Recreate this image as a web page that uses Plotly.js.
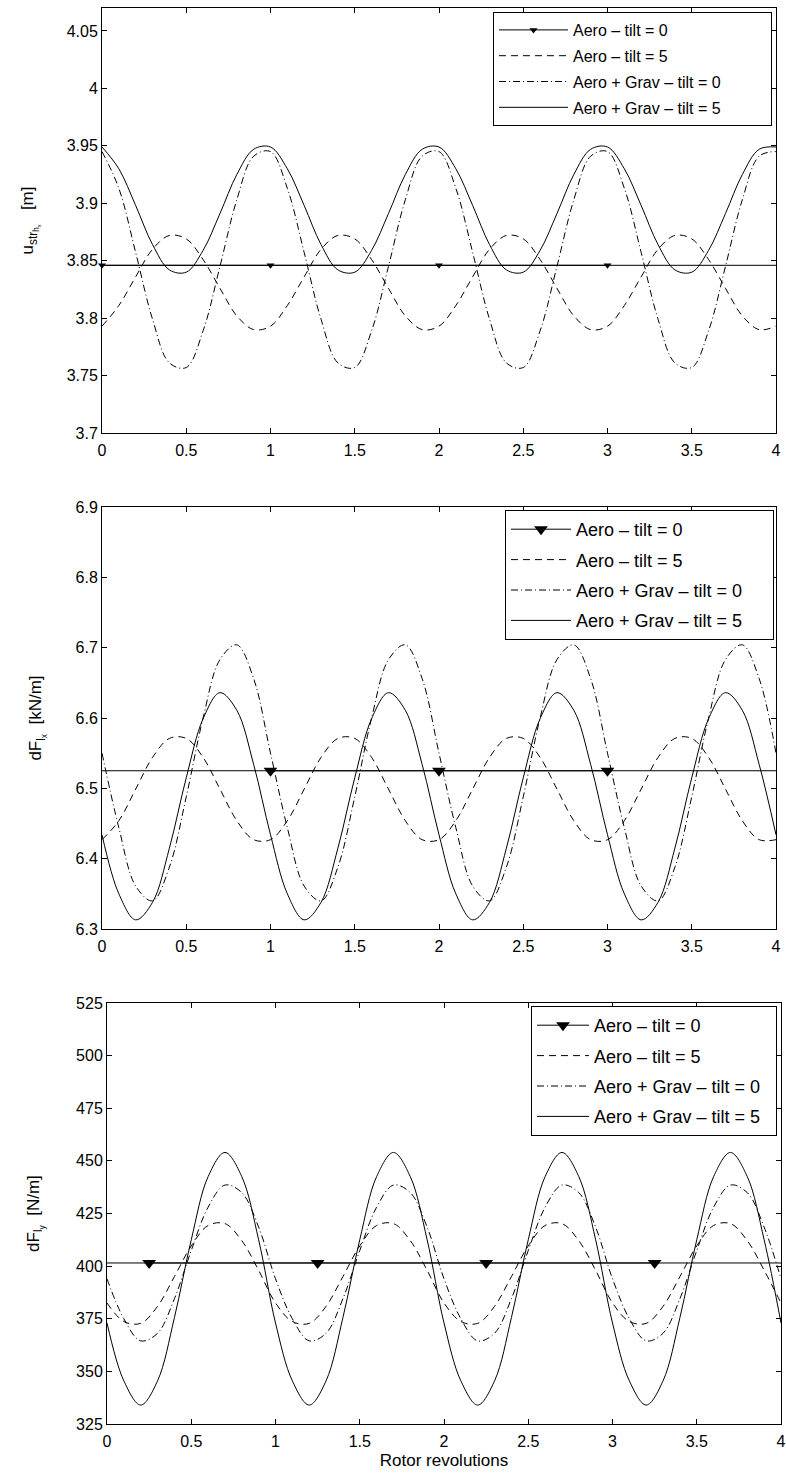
<!DOCTYPE html>
<html>
<head>
<meta charset="utf-8">
<script src="https://cdn.plot.ly/plotly-3.0.1.min.js"></script>
<style>
html,body{margin:0;padding:0;background:#fff;}
#chart{width:786px;height:1474px;}
</style>
</head>
<body>
<div id="chart"></div>
<script>
// ---------- data ----------
const revs = [0,0.1,0.2,0.3,0.4,0.5,0.6,0.7,0.8,0.9,
  1,1.1,1.2,1.3,1.4,1.5,1.6,1.7,1.8,1.9,
  2,2.1,2.2,2.3,2.4,2.5,2.6,2.7,2.8,2.9,
  3,3.1,3.2,3.3,3.4,3.5,3.6,3.7,3.8,3.9,4];

const seriesNames = ['Aero \u2013 tilt = 0','Aero \u2013 tilt = 5','Aero + Grav \u2013 tilt = 0','Aero + Grav \u2013 tilt = 5'];

// Panel 1: u_str_hx [m]
const p1_aero0 = 3.846;
const p1_markX = [0,1,2,3];
const p1_aero5 = [3.793,3.811,3.836,3.860,3.872,3.869,3.851,3.826,3.802,3.790,
  3.793,3.811,3.836,3.860,3.872,3.869,3.851,3.826,3.802,3.790,
  3.793,3.811,3.836,3.860,3.872,3.869,3.851,3.826,3.802,3.790,
  3.793,3.811,3.836,3.860,3.872,3.869,3.851,3.826,3.802,3.790,3.793];
const p1_grav0 = [3.945,3.913,3.857,3.799,3.761,3.757,3.789,3.845,3.903,3.941,
  3.945,3.913,3.857,3.799,3.761,3.757,3.789,3.845,3.903,3.941,
  3.945,3.913,3.857,3.799,3.761,3.757,3.789,3.845,3.903,3.941,
  3.945,3.913,3.857,3.799,3.761,3.757,3.789,3.845,3.903,3.941,3.945];
const p1_grav5 = [3.949,3.930,3.898,3.864,3.842,3.840,3.859,3.891,3.925,3.947,
  3.949,3.930,3.898,3.864,3.842,3.840,3.859,3.891,3.925,3.947,
  3.949,3.930,3.898,3.864,3.842,3.840,3.859,3.891,3.925,3.947,
  3.949,3.930,3.898,3.864,3.842,3.840,3.859,3.891,3.925,3.947,3.949];

// Panel 2: dF_lx [kN/m]
const p2_aero0 = 6.525;
const p2_markX = [1,2,3];
const p2_aero5 = [6.427,6.454,6.499,6.544,6.571,6.571,6.544,6.499,6.454,6.427,
  6.427,6.454,6.499,6.544,6.571,6.571,6.544,6.499,6.454,6.427,
  6.427,6.454,6.499,6.544,6.571,6.571,6.544,6.499,6.454,6.427,
  6.427,6.454,6.499,6.544,6.571,6.571,6.544,6.499,6.454,6.427,6.427];
const p2_grav0 = [6.550,6.444,6.361,6.340,6.388,6.488,6.600,6.683,6.704,6.656,
  6.550,6.444,6.361,6.340,6.388,6.488,6.600,6.683,6.704,6.656,
  6.550,6.444,6.361,6.340,6.388,6.488,6.600,6.683,6.704,6.656,
  6.550,6.444,6.361,6.340,6.388,6.488,6.600,6.683,6.704,6.656,6.550];
const p2_grav5 = [6.434,6.350,6.313,6.338,6.415,6.515,6.599,6.636,6.611,6.534,
  6.434,6.350,6.313,6.338,6.415,6.515,6.599,6.636,6.611,6.534,
  6.434,6.350,6.313,6.338,6.415,6.515,6.599,6.636,6.611,6.534,
  6.434,6.350,6.313,6.338,6.415,6.515,6.599,6.636,6.611,6.534,6.434];

// Panel 3: dF_ly [N/m]
const p3_aero0 = 401.5;
const p3_markX = [0.25,1.25,2.25,3.25];
const p3_aero5 = [382.5,373.7,372.8,380.9,395.0,409.6,419.3,420.2,412.1,398.0,
  382.5,373.7,372.8,380.9,395.0,409.6,419.3,420.2,412.1,398.0,
  382.5,373.7,372.8,380.9,395.0,409.6,419.3,420.2,412.1,398.0,
  382.5,373.7,372.8,380.9,395.0,409.6,419.3,420.2,412.1,398.0,382.5];
const p3_grav0 = [394.0,375.0,364.5,368.1,384.5,407.4,428.0,438.5,434.9,418.5,
  394.0,375.0,364.5,368.1,384.5,407.4,428.0,438.5,434.9,418.5,
  394.0,375.0,364.5,368.1,384.5,407.4,428.0,438.5,434.9,418.5,
  394.0,375.0,364.5,368.1,384.5,407.4,428.0,438.5,434.9,418.5,394.0];
const p3_grav5 = [373.0,345.5,334.0,345.5,375.5,412.5,442.5,454.0,442.5,412.5,
  373.0,345.5,334.0,345.5,375.5,412.5,442.5,454.0,442.5,412.5,
  373.0,345.5,334.0,345.5,375.5,412.5,442.5,454.0,442.5,412.5,
  373.0,345.5,334.0,345.5,375.5,412.5,442.5,454.0,442.5,412.5,373.0];

// ticks
const xTickVals = [0,0.5,1,1.5,2,2.5,3,3.5,4];
const xTickText = ['0','0.5','1','1.5','2','2.5','3','3.5','4'];
const y1TickVals = [3.7,3.75,3.8,3.85,3.9,3.95,4,4.05];
const y1TickText = ['3.7','3.75','3.8','3.85','3.9','3.95','4','4.05'];
const y2TickVals = [6.3,6.4,6.5,6.6,6.7,6.8,6.9];
const y2TickText = ['6.3','6.4','6.5','6.6','6.7','6.8','6.9'];
const y3TickVals = [325,350,375,400,425,450,475,500,525];
const y3TickText = ['325','350','375','400','425','450','475','500','525'];

// ---------- build ----------
const W = 786, H = 1474;
const FONT = 'Liberation Sans, Arial, Helvetica, sans-serif';

function pad(n) { return '\u00a0'.repeat(n); }

function panel(idx, c, markX, aero5, grav0, grav5, msize, legendId, padN) {
  const xa = idx === 1 ? 'x' : 'x' + idx;
  const ya = idx === 1 ? 'y' : 'y' + idx;
  const cy = revs.map(() => c);
  const base = {xaxis: xa, yaxis: ya, legend: legendId, hoverinfo: 'skip'};
  const nm = seriesNames.map(s => s + pad(padN));
  return [
    Object.assign({}, base, {x: revs, y: cy, mode: 'lines', showlegend: false,
      line: {color: '#000', width: 1}}),
    Object.assign({}, base, {x: markX, y: markX.map(() => c), mode: 'lines+markers',
      name: nm[0], cliponaxis: false, legendgroup: 'a' + idx,
      line: {color: '#000', width: 1},
      marker: {symbol: 'triangle-down', size: msize, color: '#000'}}),
    Object.assign({}, base, {x: revs, y: aero5, mode: 'lines', name: nm[1], legendgroup: 'b' + idx,
      line: {color: '#000', width: 1, dash: '7px,5px', shape: 'spline', smoothing: 1}}),
    Object.assign({}, base, {x: revs, y: grav0, mode: 'lines', name: nm[2], legendgroup: 'c' + idx,
      line: {color: '#000', width: 1, dash: '7px,3px,1px,3px', shape: 'spline', smoothing: 1}}),
    Object.assign({}, base, {x: revs, y: grav5, mode: 'lines', name: nm[3], legendgroup: 'd' + idx,
      line: {color: '#000', width: 1, shape: 'spline', smoothing: 1}})
  ];
}

const data = [].concat(
  panel(1, p1_aero0, p1_markX, p1_aero5, p1_grav0, p1_grav5, 7, 'legend', 10),
  panel(2, p2_aero0, p2_markX, p2_aero5, p2_grav0, p2_grav5, 12, 'legend2', 5),
  panel(3, p3_aero0, p3_markX, p3_aero5, p3_grav0, p3_grav5, 12, 'legend3', 2)
);

function xAxis(l, r, showTitle) {
  const a = {domain: [l / W, r / W], range: [0, 4], tickvals: xTickVals, ticktext: xTickText,
    ticks: 'inside', ticklen: 5, tickcolor: '#000', showline: true, linecolor: '#000', linewidth: 1,
    mirror: 'ticks', showgrid: false, zeroline: false, fixedrange: true, ticklabelstandoff: 3,
    tickfont: {family: FONT, size: 16, color: '#000'}};
  if (showTitle) a.title = {text: 'Rotor revolutions', font: {family: FONT, size: 17, color: '#000'}, standoff: 4};
  return a;
}
function yAxis(top, bot, range, tv, tt, title, so) {
  return {domain: [1 - bot / H, 1 - top / H], range: range, tickvals: tv, ticktext: tt,
    ticks: 'inside', ticklen: 5, tickcolor: '#000', showline: true, linecolor: '#000', linewidth: 1,
    mirror: 'ticks', showgrid: false, zeroline: false, fixedrange: true,
    tickfont: {family: FONT, size: 16, color: '#000'},
    title: {text: title, font: {family: FONT, size: 17, color: '#000'}, standoff: so}};
}
function legendAt(right, top, fs, iw, gap) {
  return {x: right / W, xanchor: 'right', y: 1 - top / H, yanchor: 'top',
    bgcolor: '#fff', bordercolor: '#000', borderwidth: 1, traceorder: 'grouped', tracegroupgap: gap,
    itemwidth: iw, font: {family: FONT, size: fs, color: '#000'}};
}

const layout = {
  width: W, height: H, margin: {l: 0, r: 0, t: 0, b: 0},
  paper_bgcolor: '#fff', plot_bgcolor: '#fff', showlegend: true,
  xaxis: Object.assign(xAxis(102, 776, false), {anchor: 'y'}),
  xaxis2: Object.assign(xAxis(102, 776, false), {anchor: 'y2'}),
  xaxis3: Object.assign(xAxis(107, 781, true), {anchor: 'y3'}),
  yaxis: Object.assign(yAxis(8, 433, [3.7, 4.07], y1TickVals, y1TickText, 'u<sub>str<sub>h<sub>x</sub></sub></sub>   [m]', 28), {anchor: 'x'}),
  yaxis2: Object.assign(yAxis(507, 929, [6.3, 6.9], y2TickVals, y2TickText, 'dF<sub>l<sub>x</sub></sub>  [kN/m]', 29), {anchor: 'x2'}),
  yaxis3: Object.assign(yAxis(1003, 1424, [325, 525], y3TickVals, y3TickText, 'dF<sub>l<sub>y</sub></sub>  [N/m]', 32), {anchor: 'x3'}),
  legend: legendAt(772, 12, 16, 69, 2),
  legend2: legendAt(774, 510, 18, 60, 4),
  legend3: legendAt(777, 1006, 18, 52, 4)
};

Plotly.newPlot('chart', data, layout, {displayModeBar: false, staticPlot: true});
</script>
</body>
</html>
